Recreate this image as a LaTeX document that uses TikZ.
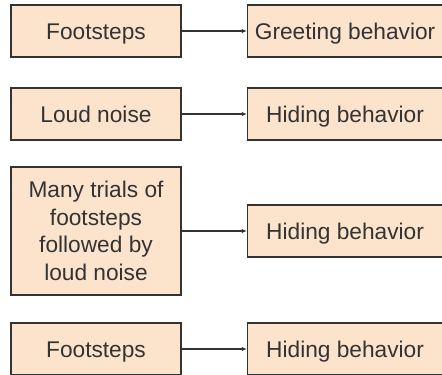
\documentclass[tikz,border=0pt]{standalone}
\usepackage{fontspec}
\setmainfont{Liberation Sans}
\usetikzlibrary{arrows.meta, positioning}
\definecolor{peach}{RGB}{252,228,204}
\definecolor{edge}{RGB}{51,51,51}

\begin{document}
\begin{tikzpicture}[x=1pt, y=-1pt,
  box/.style={rectangle, draw=edge, line width=1.6pt, fill=peach, text=edge, align=center, inner sep=0pt, minimum height=52pt, font=\fontsize{22.7}{27.5}\selectfont},
  oneline/.style={text height=16.3pt, text depth=0pt},
  cause/.style={box, minimum width=170pt},
  effect/.style={box, oneline, minimum width=195pt},
  link/.style={-{Latex[length=5pt,width=4.5pt]}, line width=1.2pt, draw=edge}]
\useasboundingbox (0,0) rectangle (442,375);
\node [cause, oneline] (foot1) at (96,31) {Footsteps};
\node [effect, right=65pt of foot1] (greet) {Greeting behavior};
\draw[link] (foot1) -- (greet);
\node [cause, oneline] (noise) at (96,114) {Loud noise};
\node [effect, right=65pt of noise] (hide1) {Hiding behavior};
\draw[link] (noise) -- (hide1);
\node [cause, minimum height=128pt] (trials) at (96,231) {Many trials of\\footsteps\\followed by\\loud noise};
\node [effect, right=65pt of trials] (hide2) {Hiding behavior};
\draw[link] (trials) -- (hide2);
\node [cause, oneline] (foot2) at (96,349) {Footsteps};
\node [effect, right=65pt of foot2] (hide3) {Hiding behavior};
\draw[link] (foot2) -- (hide3);
\end{tikzpicture}
\end{document}
